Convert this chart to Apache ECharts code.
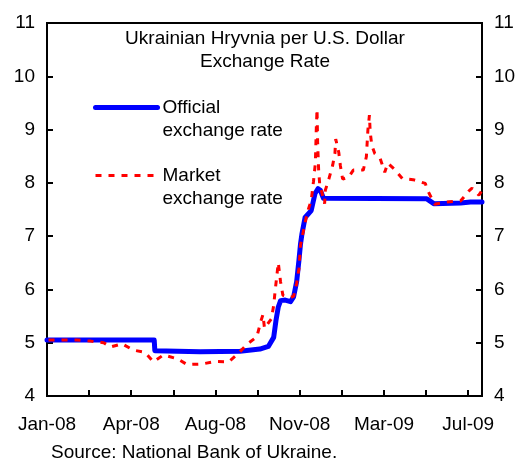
<!DOCTYPE html>
<html>
<head>
<meta charset="utf-8">
<script src="https://cdn.jsdelivr.net/npm/echarts@6/dist/echarts.min.js"></script>
<style>
  html, body { margin: 0; padding: 0; background: #fff; }
  #chart { width: 520px; height: 461px; }
</style>
</head>
<body>
<div id="chart"></div>
<script>
// x values are days counted from 1 Jan 2008
const tickLabels = ["Jan-08", "Apr-08", "Aug-08", "Nov-08", "Mar-09", "Jul-09"];
const labelStep = 110;

// official rate (UAH per USD)
const officialDays = [0, 140, 140.8, 200, 252, 278, 289, 296, 299, 302, 305, 311, 318, 322, 326, 329, 331, 333, 337, 345, 350, 354, 357, 361, 496, 505, 540, 553, 568];
const officialRate = [5.05, 5.05, 4.85, 4.83, 4.84, 4.88, 4.93, 5.10, 5.42, 5.67, 5.79, 5.80, 5.77, 5.86, 6.15, 6.55, 6.85, 7.05, 7.35, 7.48, 7.80, 7.89, 7.86, 7.71, 7.70, 7.61, 7.62, 7.64, 7.64];

// market rate
const marketDays = [2, 20, 39, 57, 74, 83, 98, 113, 128, 139, 152, 170, 183, 202, 220, 237, 250, 261, 274, 279, 282, 284, 293, 296, 298, 300, 302, 305, 308, 318, 322, 326, 329, 331, 335, 340, 345, 348, 350.4, 351.7, 352.6, 353.4, 354.7, 356, 362.5, 363.4, 368, 373, 376, 377, 381, 383, 386, 394, 400, 413, 417, 419, 421, 422, 424, 428, 435, 441, 445, 454, 464, 478, 494, 496, 506, 522, 540, 551, 555, 564, 568];
const marketRate = [5.05, 5.05, 5.05, 5.03, 5.00, 4.92, 4.98, 4.86, 4.82, 4.64, 4.77, 4.70, 4.59, 4.60, 4.65, 4.64, 4.80, 4.97, 5.11, 5.39, 5.53, 5.27, 5.45, 5.70, 5.99, 6.24, 6.50, 6.14, 5.89, 5.85, 5.87, 6.11, 6.39, 6.83, 7.11, 7.45, 7.67, 8.03, 8.37, 9.05, 9.38, 8.74, 8.24, 7.99, 7.61, 7.86, 8.07, 8.33, 8.56, 8.82, 8.57, 8.33, 8.07, 8.11, 8.24, 8.24, 8.49, 8.99, 9.27, 8.96, 8.71, 8.55, 8.46, 8.20, 8.37, 8.25, 8.08, 8.06, 7.99, 7.89, 7.60, 7.64, 7.66, 7.85, 7.90, 7.77, 7.86];

const FONT = "Liberation Sans, Arial, sans-serif";
const BLUE = "#0000ff";
const RED = "#ff0000";

const chart = echarts.init(document.getElementById("chart"));

const yAxisCommon = {
  type: "value",
  min: 4,
  max: 11,
  interval: 1,
  axisLine: { show: true, lineStyle: { color: "#000", width: 2 } },
  axisTick: { show: true, inside: true, length: 6, lineStyle: { color: "#000", width: 2 } },
  axisLabel: { color: "#000", fontSize: 19, fontFamily: FONT, margin: 12 },
  splitLine: { show: false }
};

chart.setOption({
  animation: false,
  title: {
    text: "Ukrainian Hryvnia per U.S. Dollar\nExchange Rate",
    left: 265,
    top: 27,
    padding: 0,
    textAlign: "center",
    textStyle: { color: "#000", fontSize: 19, fontWeight: "normal", fontFamily: FONT, lineHeight: 23 }
  },
  legend: {
    orient: "vertical",
    left: 93,
    top: 73,
    padding: 0,
    itemWidth: 62,
    itemHeight: 14,
    itemGap: -1,
    itemStyle: { opacity: 0 },
    // blank first line so the icon sits level with the first text line
    formatter: (name) => " \n" + name.replace(" ", "\n"),
    textStyle: { color: "#000", fontSize: 19, fontFamily: FONT, lineHeight: 23 },
    data: [
      { name: "Official exchange rate", lineStyle: { color: BLUE, width: 5, cap: "round" } },
      { name: "Market exchange rate", lineStyle: { color: RED, width: 3, type: [6, 7] } }
    ]
  },
  grid: {
    left: 47, right: 38, top: 23, bottom: 65,
    show: true, borderColor: "#000", borderWidth: 2, backgroundColor: "transparent"
  },
  xAxis: {
    type: "value",
    min: 0,
    max: 568,
    interval: labelStep / 2,
    axisLine: { show: true, lineStyle: { color: "#000", width: 2 } },
    axisTick: { show: true, inside: true, length: 6, lineStyle: { color: "#000", width: 2 } },
    axisLabel: {
      color: "#000", fontSize: 19, fontFamily: FONT, margin: 19,
      showMaxLabel: false,
      formatter: (v) => (v % labelStep === 0 ? tickLabels[v / labelStep] || "" : "")
    },
    splitLine: { show: false }
  },
  yAxis: [
    Object.assign({ position: "left" }, yAxisCommon),
    Object.assign({ position: "right" }, yAxisCommon)
  ],
  graphic: [{
    type: "text",
    left: 51,
    top: 443,
    style: { text: "Source: National Bank of Ukraine.", fill: "#000", font: "19px " + FONT }
  }],
  series: [
    {
      name: "Official exchange rate",
      type: "line",
      symbol: "none",
      lineStyle: { color: BLUE, width: 5, cap: "round", join: "round" },
      itemStyle: { color: BLUE },
      data: officialDays.map((d, i) => [d, officialRate[i]])
    },
    {
      name: "Market exchange rate",
      type: "line",
      symbol: "none",
      lineStyle: { color: RED, width: 3, type: [6, 7] },
      itemStyle: { color: RED },
      data: marketDays.map((d, i) => [d, marketRate[i]])
    }
  ]
});
</script>
</body>
</html>
